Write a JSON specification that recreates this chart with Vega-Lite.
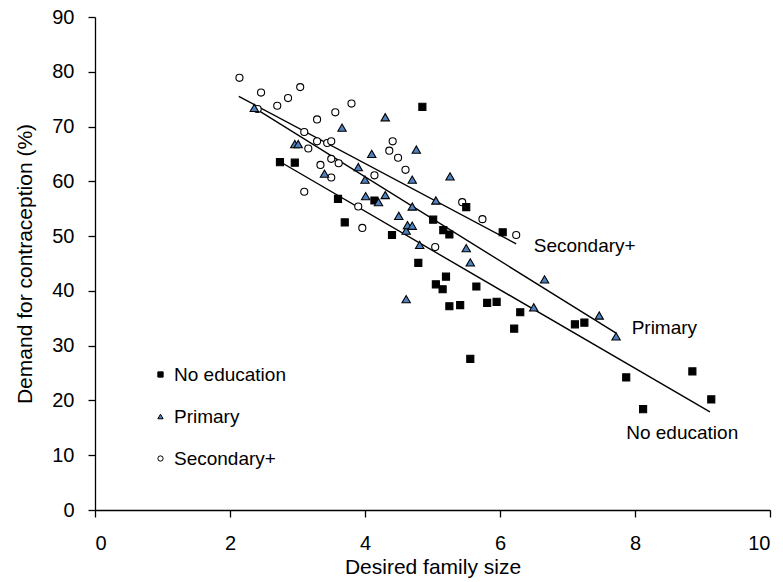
{
  "$schema": "https://vega.github.io/schema/vega-lite/v6.json",
  "width": 675,
  "height": 493,
  "autosize": {"type": "none"},
  "padding": {"left": 95, "top": 17, "right": 13, "bottom": 72},
  "background": "white",
  "config": {
    "font": "Liberation Sans",
    "view": {"stroke": null},
    "axis": {"grid": false, "domainColor": "black", "tickColor": "black", "labelColor": "black", "titleColor": "black", "labelFontSize": 20, "titleFontSize": 21, "titleFontWeight": "normal", "tickSize": 7, "domainWidth": 1.3, "tickWidth": 1.3, "labelFont": "Liberation Sans", "titleFont": "Liberation Sans", "format": "d"},
    "legend": {"labelFontSize": 19, "labelFont": "Liberation Sans", "labelColor": "black"}
  },
  "datasets": {
    "pts": [
      {"edu": "Secondary+", "x": 2.14, "y": 78.9},
      {"edu": "Secondary+", "x": 2.46, "y": 76.2},
      {"edu": "Secondary+", "x": 2.70, "y": 73.8},
      {"edu": "Secondary+", "x": 2.86, "y": 75.2},
      {"edu": "Secondary+", "x": 3.04, "y": 77.2},
      {"edu": "Secondary+", "x": 2.41, "y": 73.2},
      {"edu": "Secondary+", "x": 3.10, "y": 69.0},
      {"edu": "Secondary+", "x": 3.16, "y": 66.0},
      {"edu": "Secondary+", "x": 3.29, "y": 71.3},
      {"edu": "Secondary+", "x": 3.29, "y": 67.3},
      {"edu": "Secondary+", "x": 3.34, "y": 63.0},
      {"edu": "Secondary+", "x": 3.44, "y": 67.0},
      {"edu": "Secondary+", "x": 3.50, "y": 67.3},
      {"edu": "Secondary+", "x": 3.50, "y": 64.1},
      {"edu": "Secondary+", "x": 3.50, "y": 60.7},
      {"edu": "Secondary+", "x": 3.56, "y": 72.6},
      {"edu": "Secondary+", "x": 3.61, "y": 63.3},
      {"edu": "Secondary+", "x": 3.80, "y": 74.2},
      {"edu": "Secondary+", "x": 3.10, "y": 58.1},
      {"edu": "Secondary+", "x": 3.90, "y": 55.4},
      {"edu": "Secondary+", "x": 3.96, "y": 51.5},
      {"edu": "Secondary+", "x": 4.14, "y": 61.1},
      {"edu": "Secondary+", "x": 4.36, "y": 65.6},
      {"edu": "Secondary+", "x": 4.41, "y": 67.3},
      {"edu": "Secondary+", "x": 4.49, "y": 64.3},
      {"edu": "Secondary+", "x": 4.60, "y": 62.1},
      {"edu": "Secondary+", "x": 5.04, "y": 48.0},
      {"edu": "Secondary+", "x": 5.44, "y": 56.2},
      {"edu": "Secondary+", "x": 5.74, "y": 53.1},
      {"edu": "Secondary+", "x": 6.24, "y": 50.2},
      {"edu": "Primary", "x": 2.36, "y": 73.4},
      {"edu": "Primary", "x": 2.96, "y": 66.8},
      {"edu": "Primary", "x": 3.01, "y": 66.8},
      {"edu": "Primary", "x": 3.40, "y": 61.4},
      {"edu": "Primary", "x": 3.66, "y": 69.8},
      {"edu": "Primary", "x": 3.90, "y": 62.6},
      {"edu": "Primary", "x": 4.00, "y": 60.3},
      {"edu": "Primary", "x": 4.01, "y": 57.3},
      {"edu": "Primary", "x": 4.10, "y": 65.0},
      {"edu": "Primary", "x": 4.20, "y": 56.2},
      {"edu": "Primary", "x": 4.30, "y": 71.7},
      {"edu": "Primary", "x": 4.30, "y": 57.5},
      {"edu": "Primary", "x": 4.50, "y": 53.7},
      {"edu": "Primary", "x": 4.61, "y": 38.5},
      {"edu": "Primary", "x": 4.61, "y": 51.0},
      {"edu": "Primary", "x": 4.63, "y": 52.0},
      {"edu": "Primary", "x": 4.70, "y": 55.4},
      {"edu": "Primary", "x": 4.70, "y": 51.9},
      {"edu": "Primary", "x": 4.70, "y": 60.3},
      {"edu": "Primary", "x": 4.76, "y": 65.8},
      {"edu": "Primary", "x": 4.81, "y": 48.4},
      {"edu": "Primary", "x": 5.05, "y": 56.5},
      {"edu": "Primary", "x": 5.26, "y": 60.9},
      {"edu": "Primary", "x": 5.50, "y": 47.8},
      {"edu": "Primary", "x": 5.56, "y": 45.2},
      {"edu": "Primary", "x": 6.66, "y": 42.1},
      {"edu": "Primary", "x": 6.50, "y": 37.0},
      {"edu": "Primary", "x": 7.47, "y": 35.5},
      {"edu": "Primary", "x": 7.72, "y": 31.7},
      {"edu": "No education", "x": 2.74, "y": 63.5},
      {"edu": "No education", "x": 2.96, "y": 63.4},
      {"edu": "No education", "x": 3.60, "y": 56.8},
      {"edu": "No education", "x": 3.70, "y": 52.5},
      {"edu": "No education", "x": 4.14, "y": 56.5},
      {"edu": "No education", "x": 4.40, "y": 50.2},
      {"edu": "No education", "x": 4.85, "y": 73.6},
      {"edu": "No education", "x": 4.79, "y": 45.1},
      {"edu": "No education", "x": 5.01, "y": 53.0},
      {"edu": "No education", "x": 5.05, "y": 41.2},
      {"edu": "No education", "x": 5.16, "y": 51.1},
      {"edu": "No education", "x": 5.15, "y": 40.3},
      {"edu": "No education", "x": 5.20, "y": 42.6},
      {"edu": "No education", "x": 5.25, "y": 50.3},
      {"edu": "No education", "x": 5.25, "y": 37.2},
      {"edu": "No education", "x": 5.41, "y": 37.4},
      {"edu": "No education", "x": 5.50, "y": 55.3},
      {"edu": "No education", "x": 5.56, "y": 27.6},
      {"edu": "No education", "x": 5.65, "y": 40.8},
      {"edu": "No education", "x": 5.81, "y": 37.8},
      {"edu": "No education", "x": 5.95, "y": 38.0},
      {"edu": "No education", "x": 6.04, "y": 50.7},
      {"edu": "No education", "x": 6.21, "y": 33.1},
      {"edu": "No education", "x": 6.30, "y": 36.1},
      {"edu": "No education", "x": 7.11, "y": 33.9},
      {"edu": "No education", "x": 7.25, "y": 34.2},
      {"edu": "No education", "x": 7.87, "y": 24.2},
      {"edu": "No education", "x": 8.12, "y": 18.4},
      {"edu": "No education", "x": 8.85, "y": 25.3},
      {"edu": "No education", "x": 9.13, "y": 20.2}
    ],
    "fits": [
      {"edu": "Secondary+", "x": 2.13, "y": 75.5},
      {"edu": "Secondary+", "x": 6.24, "y": 48.6},
      {"edu": "Primary", "x": 2.36, "y": 73.4},
      {"edu": "Primary", "x": 7.72, "y": 32.3},
      {"edu": "No education", "x": 2.78, "y": 63.3},
      {"edu": "No education", "x": 9.11, "y": 17.9}
    ],
    "labels": [
      {"edu": "Secondary+", "x": 6.5, "y": 48.2},
      {"edu": "Primary", "x": 7.95, "y": 33.3},
      {"edu": "No education", "x": 7.87, "y": 14.0}
    ]
  },
  "layer": [
    {
      "data": {"name": "fits"},
      "mark": {"type": "line", "color": "black", "strokeWidth": 1.4},
      "encoding": {
        "x": {"field": "x", "type": "quantitative", "scale": {"domain": [0, 10]}, "axis": {"values": [0, 2, 4, 6, 8, 10], "title": "Desired family size", "titlePadding": 3, "labelPadding": 16}},
        "y": {"field": "y", "type": "quantitative", "scale": {"domain": [0, 90]}, "axis": {"values": [0, 10, 20, 30, 40, 50, 60, 70, 80, 90], "title": "Demand for contraception (%)", "titlePadding": 16, "labelPadding": 14}},
        "detail": {"field": "edu"}
      }
    },
    {
      "data": {"name": "pts"},
      "transform": [{"filter": "datum.edu !== 'Primary'"}],
      "mark": {"type": "point", "filled": true, "stroke": "black", "strokeWidth": 1.1, "opacity": 1, "size": 50},
      "encoding": {
        "x": {"field": "x", "type": "quantitative"},
        "y": {"field": "y", "type": "quantitative"},
        "shape": {"field": "edu", "type": "nominal", "title": null, "scale": {"domain": ["No education", "Primary", "Secondary+"], "range": ["square", "triangle-up", "circle"]}, "legend": {"title": null, "orient": "none", "legendX": 56, "legendY": 348, "symbolSize": 28, "symbolStrokeWidth": 1, "rowPadding": 22, "labelOffset": 4, "encode": {"symbols": {"update": {"stroke": {"value": "black"}, "strokeWidth": {"value": 1}}}}}},
        "fill": {"field": "edu", "type": "nominal", "title": null, "scale": {"domain": ["No education", "Primary", "Secondary+"], "range": ["black", "#4F81BD", "white"]}, "legend": {"title": null, "orient": "none", "legendX": 56, "legendY": 348, "symbolSize": 28, "symbolStrokeWidth": 1, "rowPadding": 22, "labelOffset": 4, "encode": {"symbols": {"update": {"stroke": {"value": "black"}, "strokeWidth": {"value": 1}}}}}}
      }
    },
    {
      "data": {"name": "pts"},
      "transform": [{"filter": "datum.edu === 'Primary'"}],
      "mark": {"type": "point", "filled": true, "stroke": "black", "strokeWidth": 1.1, "opacity": 1, "size": 70},
      "encoding": {
        "x": {"field": "x", "type": "quantitative"},
        "y": {"field": "y", "type": "quantitative"},
        "shape": {"field": "edu", "type": "nominal", "title": null},
        "fill": {"field": "edu", "type": "nominal", "title": null}
      }
    },
    {
      "data": {"name": "labels"},
      "mark": {"type": "text", "align": "left", "baseline": "middle", "fontSize": 19, "color": "black"},
      "encoding": {
        "x": {"field": "x", "type": "quantitative"},
        "y": {"field": "y", "type": "quantitative"},
        "text": {"field": "edu"}
      }
    }
  ]
}
